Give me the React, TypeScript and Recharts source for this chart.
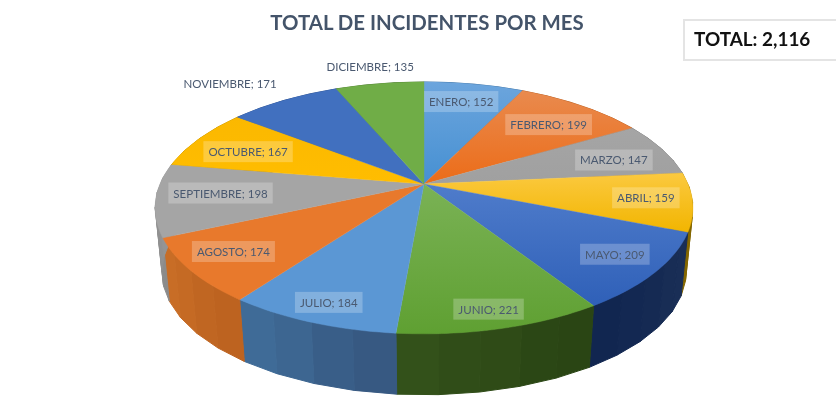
import React from "react";
import { PieChart, Pie } from "recharts";

const months = ["ENERO","FEBRERO","MARZO","ABRIL","MAYO","JUNIO","JULIO","AGOSTO","SEPTIEMBRE","OCTUBRE","NOVIEMBRE","DICIEMBRE"];
const incidents = [152,199,147,159,209,221,184,174,198,167,171,135];
const chartData = months.map((month, i) => ({ month, incidents: incidents[i] }));

const topColorsA = ["#6CA5DD","#E98A4E","#A5A5A5","#FBC93F","#4F7CCB","#7AB255","#5B97D4","#E8792C","#A5A5A5","#FBB800","#4170BF","#70AD47"];
const topColorsB = ["#4690D2","#EC6C18","#A0A0A0","#F2B500","#2F60B8","#5FA032","#5B97D4","#E8792C","#A5A5A5","#FFBD00","#4170BF","#70AD47"];
const wallColorsA = ["#3A6C9A","#A9561A","#6E6E6E","#9C7A00","#1A2F56","#294414","#365780","#BC6220","#8A8A8A","#A98000","#2C4C85","#4A7330"];
const wallColorsB = ["#3A6C9A","#A9561A","#6E6E6E","#7A5F00","#0F244F","#35531B","#42729F","#CC7028","#9A9A9A","#A98000","#2C4C85","#4A7330"];
const labelRadii = [0.8,0.79,0.79,0.83,0.85,0.87,0.86,0.8,0.7,0.72,1.36,1.18];
const labelNudgeX = [-4,-3,0,0,-2,-1,-1,-9,-17,-11,-12.5,-3];
const labelNudgeY = [0,4,4,-1,-3,3,3,0,-2,1,8,-2];
const labelBoxed = [true,true,true,true,true,true,true,true,true,true,false,false];

// perspective of the tilted disc
const K = 0.19, SX = 2.64, SY = 1.214, BASE_SCALE = 0.975, BASE_DROP = 64.7;
const LABEL_FONT = 11.5;

function project(cx: number, cy: number, R: number, theta: number, r = 1) {
  const rad = (theta * Math.PI) / 180;
  const u = r * Math.sin(rad), v = r * Math.cos(rad);
  const w = 1 + K * v;
  return { x: cx + (R * SX * u) / w, y: cy - (R * SY * v) / w };
}
function base(cx: number, cy: number, R: number, theta: number) {
  const p = project(cx, cy, R, theta);
  return { x: cx + (p.x - cx) * BASE_SCALE, y: cy + BASE_DROP + (p.y - cy) * BASE_SCALE };
}
const hex = (c: string) => [1, 3, 5].map((i) => parseInt(c.slice(i, i + 2), 16));
function mix(a: string, b: string, t: number) {
  const A = hex(a), B = hex(b);
  return `rgb(${A.map((x, i) => Math.round(x + (B[i] - x) * t)).join(",")})`;
}
const pt = (p: { x: number; y: number }) => `${p.x.toFixed(2)},${p.y.toFixed(2)}`;

function TopFace(props: any) {
  const { cx, cy, outerRadius, startAngle, endAngle, index } = props;
  const t0 = 90 - startAngle, t1 = 90 - endAngle;
  const n = Math.max(2, Math.ceil(Math.abs(t1 - t0) / 1.5));
  const pts = [`${cx},${cy}`];
  for (let i = 0; i <= n; i++) pts.push(pt(project(cx, cy, outerRadius, t0 + ((t1 - t0) * i) / n)));
  const id = `top-${index}`;
  return (
    <g>
      <defs>
        <linearGradient id={id} x1="0" y1="0" x2="0" y2="1">
          <stop offset="0" stopColor={topColorsA[index]} />
          <stop offset="1" stopColor={topColorsB[index]} />
        </linearGradient>
      </defs>
      <polygon points={pts.join(" ")} fill={`url(#${id})`} stroke={`url(#${id})`} strokeWidth={0.4} />
    </g>
  );
}

function Wall(props: any) {
  const { cx, cy, outerRadius, startAngle, endAngle, index } = props;
  const t0 = 90 - startAngle, t1 = 90 - endAngle;
  const n = Math.max(2, Math.ceil(Math.abs(t1 - t0) / 8));
  const strips = [];
  for (let i = 0; i < n; i++) {
    const a = t0 + ((t1 - t0) * i) / n, b = t0 + ((t1 - t0) * (i + 1)) / n;
    const wobble = i % 2 === 0 ? 0.06 : 0;
    const c = mix(wallColorsA[index], wallColorsB[index], Math.min(1, i / n + wobble));
    strips.push(
      <polygon key={i} fill={c} stroke={c} strokeWidth={1}
        points={[project(cx, cy, outerRadius, a), project(cx, cy, outerRadius, b), base(cx, cy, outerRadius, b), base(cx, cy, outerRadius, a)].map(pt).join(" ")} />
    );
  }
  return <g>{strips}</g>;
}

function textWidth(s: string) {
  const ctx = document.createElement("canvas").getContext("2d")!;
  ctx.font = `${LABEL_FONT}px Lato`;
  return ctx.measureText(s).width;
}

function MonthLabel(props: any) {
  const { cx, cy, outerRadius, midAngle, index, name, value } = props;
  const p = project(cx, cy, outerRadius, 90 - midAngle, labelRadii[index]);
  const x = p.x + labelNudgeX[index], y = p.y + labelNudgeY[index];
  const s = `${name}; ${value}`;
  const w = textWidth(s) + 10;
  return (
    <g>
      {labelBoxed[index] && <rect x={x - w / 2} y={y - 10.5} width={w} height={21} fill="#ffffff" fillOpacity={0.24} />}
      <text x={x} y={y} textAnchor="middle" dominantBaseline="central" fontFamily="Lato" fontSize={LABEL_FONT} fill="#4A5970">{s}</text>
    </g>
  );
}

export default function App() {
  return (
    <div style={{ position: "absolute", left: 0, top: 0, width: 836, height: 412, background: "#fff", overflow: "hidden", filter: "blur(0.55px)" }}>
      <PieChart width={836} height={412} margin={{ top: 0, right: 0, bottom: 0, left: 0 }}>
        <Pie data={chartData} dataKey="incidents" nameKey="month" cx={424} cy={184} outerRadius={100} startAngle={90} endAngle={-270}
          stroke="none" isAnimationActive={false} shape={Wall} label={false} labelLine={false} />
        <Pie data={chartData} dataKey="incidents" nameKey="month" cx={424} cy={184} outerRadius={100} startAngle={90} endAngle={-270}
          stroke="none" isAnimationActive={false} shape={TopFace} label={MonthLabel} labelLine={false} />
      </PieChart>
      <div style={{ position: "absolute", left: 0, width: 854, top: 8, textAlign: "center", fontFamily: "Lato", fontWeight: 700, fontSize: 20.4, lineHeight: "28px", color: "#44546A" }}>
        TOTAL DE INCIDENTES POR MES
      </div>
      <div style={{ position: "absolute", left: 683, top: 19, width: 160, height: 38, border: "2px solid #E4E4E4", fontFamily: "Lato", fontWeight: 700, fontSize: 18.9, lineHeight: "36px", color: "#111", paddingLeft: 9, boxSizing: "content-box" }}>
        TOTAL: 2,116
      </div>
    </div>
  );
}
